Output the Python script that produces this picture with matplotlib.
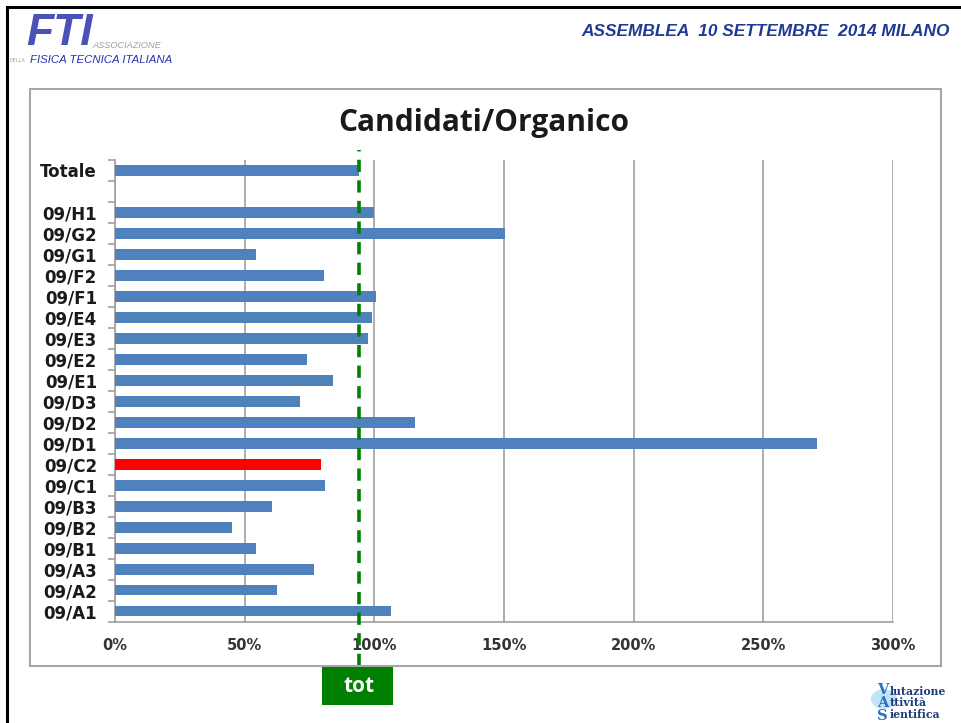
import matplotlib
matplotlib.use("Agg")
import matplotlib.pyplot as plt
from matplotlib.patches import Rectangle, Circle
from matplotlib.lines import Line2D
from matplotlib.ticker import FixedLocator, PercentFormatter

# Data: candidati/organico ratio (%) per settore, bottom to top
categories = ["09/A1", "09/A2", "09/A3", "09/B1", "09/B2", "09/B3", "09/C1",
              "09/C2", "09/D1", "09/D2", "09/D3", "09/E1", "09/E2", "09/E3",
              "09/E4", "09/F1", "09/F2", "09/G1", "09/G2", "09/H1", "", "Totale"]
values = [106.4, 62.4, 76.9, 54.3, 45.2, 60.6, 81.1,
          79.5, 270.6, 115.5, 71.5, 83.9, 73.9, 97.4,
          99.2, 100.8, 80.5, 54.3, 150.4, 100.0, None, 94.0]
highlight = "09/C2"
total_ratio = 94.0
x_ticks = [0, 50, 100, 150, 200, 250, 300]

W, H = 962, 723
fig = plt.figure(figsize=(W / 100, H / 100), dpi=100)
fig.patch.set_facecolor("white")


def fx(px):
    return px / W


def fy(py):
    return 1 - py / H


# slide border (top and left)
fig.add_artist(Line2D([fx(7), 1.0], [fy(7), fy(7)], color="black", lw=2.2))
fig.add_artist(Line2D([fx(7), fx(7)], [fy(7), 0.0], color="black", lw=2.2))

# chart frame
fig.add_artist(Rectangle((fx(30), fy(666)), fx(941) - fx(30), fy(89) - fy(666),
                         fill=False, edgecolor="#a6a6a6", lw=1.5))

# header
fig.text(fx(950), fy(32), "ASSEMBLEA  10 SETTEMBRE  2014 MILANO", ha="right",
         va="center", fontsize=12.4, fontweight="bold", style="italic",
         color="#1f3a93", family="Liberation Sans")

# FTI logo (approximation with text)
fig.text(fx(26), fy(45), "FTI", fontsize=32, fontweight="bold", style="italic",
         color="#4a52b8", va="baseline", ha="left", family="Liberation Sans")
fig.text(fx(92), fy(48), "ASSOCIAZIONE", fontsize=6.6, style="italic",
         color="#a0a0a0", va="baseline", ha="left", family="Liberation Sans")
fig.text(fx(10), fy(60), "DELLA", fontsize=3.5, color="#a0a0a0", va="center",
         ha="left")
fig.text(fx(30), fy(60), "FISICA TECNICA ITALIANA", fontsize=8.2, style="italic",
         color="#2b2fb0", va="center", ha="left", family="Liberation Sans")

# chart title
fig.text(fx(484), fy(123), "Candidati/Organico", ha="center", va="center",
         fontsize=21.5, fontweight="bold", color="#1a1a1a", family="Open Sans")

ax = fig.add_axes([fx(115), fy(621.5), fx(893) - fx(115), fy(160) - fy(621.5)])

ypos = list(range(len(categories)))
for y, cat, v in zip(ypos, categories, values):
    if v is None:
        continue
    col = "#ff0000" if cat == highlight else "#4f81bd"
    ax.barh(y, v, height=0.52, color=col, zorder=3)

ax.set_xlim(0, 300)
ax.set_ylim(-0.5, len(categories) - 0.5)
ax.xaxis.set_major_locator(FixedLocator(x_ticks))
ax.xaxis.set_major_formatter(PercentFormatter(decimals=0))
ax.grid(axis="x", color="#a0a0a0", lw=1.2, zorder=0)
ax.set_yticks(ypos)
ax.set_yticklabels(categories)
ax.set_yticks([y - 0.5 for y in range(len(categories) + 1)], minor=True)
ax.tick_params(axis="y", which="major", length=0, pad=13, labelsize=12,
               labelcolor="#1a1a1a")
for lab in ax.get_yticklabels():
    lab.set_fontweight("bold")
ax.tick_params(axis="y", which="minor", length=5, color="#a0a0a0", width=1.2)
ax.tick_params(axis="x", length=0, pad=12, labelsize=10.5, labelcolor="#333333")
for lab in ax.get_xticklabels():
    lab.set_fontweight("bold")
for s in ["top", "right"]:
    ax.spines[s].set_visible(False)
for s in ["left", "bottom"]:
    ax.spines[s].set_color("#a0a0a0")
    ax.spines[s].set_linewidth(1.2)

# total reference line
ax.axvline(total_ratio, ymin=-0.097, ymax=1.022, color="#008000", lw=2.6,
           linestyle=(0, (3.4, 2.3)), clip_on=False, zorder=5)

# "tot" label box
tx = ax.transData.transform((total_ratio, 0))[0] / W
fig.add_artist(Rectangle((fx(322), fy(705)), fx(393) - fx(322), fy(667) - fy(705),
                         facecolor="#008000", edgecolor="none"))
fig.text(tx, fy(686), "tot", ha="center", va="center", fontsize=15,
         fontweight="bold", color="white", family="Open Sans")

# VAS logo (approximation)
fig.add_artist(Circle((fx(884), fy(699)), 13 / W, transform=fig.transFigure,
                      facecolor="#bfe3f7", edgecolor="none"))
fig.text(fx(877), fy(703), "V\nA\nS", fontsize=10.5, fontweight="bold",
         color="#2e6fc0", va="center", ha="left", family="DejaVu Serif",
         linespacing=0.95)
fig.text(fx(890), fy(703), "lutazione\nttività\nientifica", fontsize=7.8,
         fontweight="bold", color="#1f3d7a", va="center", ha="left",
         family="DejaVu Serif", linespacing=1.05)

fig.savefig("out.png", dpi=100, facecolor="white")
